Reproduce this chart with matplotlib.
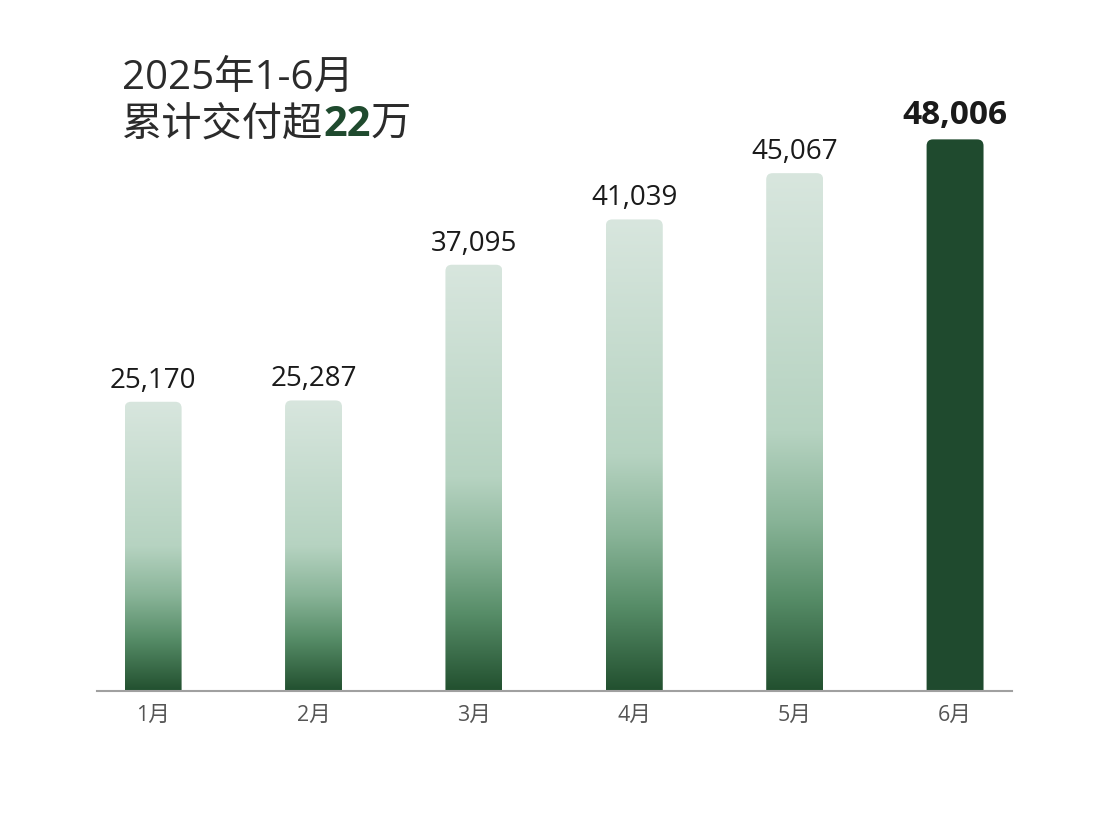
import numpy as np
import matplotlib
matplotlib.use('Agg')
import matplotlib.pyplot as plt
from matplotlib.colors import LinearSegmentedColormap
from matplotlib.patches import FancyBboxPatch

plt.rcParams['font.family'] = ['Open Sans', 'Noto Sans CJK SC', 'DejaVu Sans']

months = ['1月', '2月', '3月', '4月', '5月', '6月']
deliveries = [25170, 25287, 37095, 41039, 45067, 48006]
title_line1 = '2025年1-6月'
title_pre, title_num, title_post = '累计交付超', '22', '万'

dark_green = '#1f4a2e'
grad = LinearSegmentedColormap.from_list('g', [
    (0.0, '#22502f'),
    (0.18, '#578d68'),
    (0.33, '#89b498'),
    (0.5, '#b6d3c1'),
    (1.0, '#d8e6de'),
])

fig = plt.figure(figsize=(11.02, 8.2), dpi=100)
ax = fig.add_axes([97 / 1102, 128 / 820, 915 / 1102, 632 / 820])

bar_w = 0.355
x = np.arange(len(months))
rx = 0.04
ry = 560
for i, v in enumerate(deliveries):
    left = x[i] - bar_w / 2
    patch = FancyBboxPatch((left, -800), bar_w, v + 800,
                           boxstyle=f'round,pad=0,rounding_size={rx}',
                           mutation_aspect=ry / rx,
                           facecolor='none', edgecolor='none')
    ax.add_patch(patch)
    if i == len(months) - 1:
        patch.set_facecolor(dark_green)
    else:
        g = np.linspace(0, 1, 256).reshape(-1, 1)
        im = ax.imshow(g, cmap=grad, origin='lower', aspect='auto',
                       extent=[left, left + bar_w, 0, v], interpolation='bilinear')
        im.set_clip_path(patch)
    last = i == len(months) - 1
    ax.text(x[i], v + 700, f'{v:,}', ha='center', va='bottom',
            fontsize=24 if last else 20, color='#1a1a1a',
            fontweight='bold' if last else 'normal')

ax.set_xlim(-0.35, 5.355)
ax.set_ylim(0, 55000)
ax.set_xticks(x)
ax.set_xticklabels(months, fontsize=15.5, color='#555555')
ax.tick_params(axis='x', length=0, pad=9)
ax.set_yticks([])
for s in ['top', 'right', 'left']:
    ax.spines[s].set_visible(False)
ax.spines['bottom'].set_color('#a0a0a0')
ax.spines['bottom'].set_linewidth(1.5)

# title, two lines top-left
fig.text(122 / 1102, 1 - 89 / 820, title_line1, fontsize=29, color='#2b2b2b',
         ha='left', va='baseline')
t1 = fig.text(122 / 1102, 1 - 136 / 820, title_pre, fontsize=29, color='#2b2b2b',
              ha='left', va='baseline')
r = fig.canvas.get_renderer()
bb = t1.get_window_extent(r)
t2 = fig.text(bb.x1 / 1102, 1 - 136 / 820, title_num, fontsize=30, color=dark_green,
              fontweight='bold', ha='left', va='baseline')
bb = t2.get_window_extent(r)
fig.text(bb.x1 / 1102, 1 - 136 / 820, title_post, fontsize=29, color='#2b2b2b',
         ha='left', va='baseline')

fig.savefig('out.png', dpi=100)
